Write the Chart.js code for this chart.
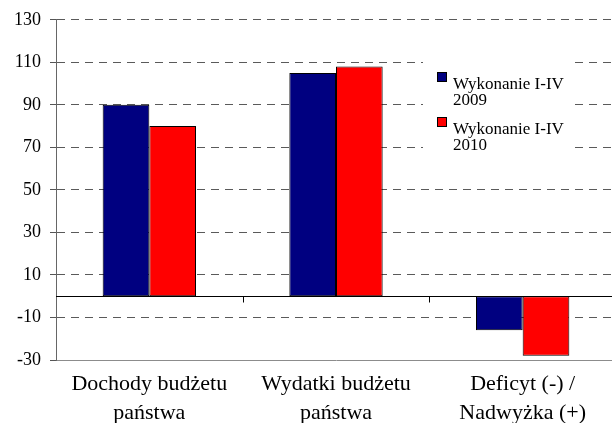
<!DOCTYPE html>
<html>
<head>
<meta charset="utf-8">
<script src="https://cdn.jsdelivr.net/npm/chart.js@4/dist/chart.umd.min.js"></script>
<style>
  body { margin: 0; background: #fff; overflow: hidden; }
  #wrap { width: 612px; height: 423px; overflow: hidden; }
</style>
</head>
<body>
<div id="wrap"><canvas id="budget" width="616" height="423"></canvas></div>
<script>
const categories = [
    ['Dochody budżetu', 'państwa'],
    ['Wydatki budżetu', 'państwa'],
    ['Deficyt (-) /', 'Nadwyżka (+)']
];
const seriesNames = ['Wykonanie I-IV 2009', 'Wykonanie I-IV 2010'];
const values2009 = [90, 105, -16];
const values2010 = [80, 108, -28];
const yTicks = [-30, -10, 10, 30, 50, 70, 90, 110, 130];

const serif = '"Liberation Serif", "Times New Roman", serif';

// zero line with small category ticks, like the Excel original
const zeroLine = {
    id: 'zeroLine',
    afterDatasetsDraw(chart) {
        const { ctx, chartArea, scales } = chart;
        const y0 = Math.round(scales.y.getPixelForValue(0)) + 0.5;
        ctx.save();
        ctx.strokeStyle = '#000';
        ctx.lineWidth = 1;
        ctx.beginPath();
        ctx.moveTo(chartArea.left, y0);
        ctx.lineTo(chartArea.right, y0);
        for (let i = 0; i < categories.length - 1; i++) {
            const x = Math.round((scales.x.getPixelForValue(i) + scales.x.getPixelForValue(i + 1)) / 2) + 0.5;
            ctx.moveTo(x, y0);
            ctx.lineTo(x, y0 + 6);
        }
        ctx.stroke();
        ctx.restore();
    }
};

// legend box sitting over the grid, two lines per entry
const boxLegend = {
    id: 'boxLegend',
    afterDraw(chart) {
        const ctx = chart.ctx;
        ctx.save();
        ctx.fillStyle = '#fff';
        ctx.fillRect(423, 62, 149, 93);
        ctx.font = '17px ' + serif;
        ctx.textBaseline = 'alphabetic';
        chart.data.datasets.forEach((ds, i) => {
            const top = 72 + i * 45;
            ctx.fillStyle = ds.backgroundColor;
            ctx.fillRect(437, top, 9, 9);
            ctx.strokeStyle = '#000';
            ctx.lineWidth = 1;
            ctx.strokeRect(437.5, top + 0.5, 9, 9);
            const cut = ds.label.lastIndexOf(' ');
            ctx.fillStyle = '#000';
            ctx.fillText(ds.label.slice(0, cut), 453, top + 17);
            ctx.fillText(ds.label.slice(cut + 1), 453, top + 33);
        });
        ctx.restore();
    }
};

const chart = new Chart(document.getElementById('budget'), {
    type: 'bar',
    data: {
        labels: categories,
        datasets: [{
            label: seriesNames[0],
            data: values2009,
            backgroundColor: '#000080',
            borderColor: '#000',
            borderWidth: 1,
            borderSkipped: false
        }, {
            label: seriesNames[1],
            data: values2010,
            backgroundColor: '#ff0000',
            borderColor: '#000',
            borderWidth: 1,
            borderSkipped: false
        }]
    },
    options: {
        responsive: false,
        animation: false,
        devicePixelRatio: 1,
        layout: { padding: { top: 18, right: 0, left: 0, bottom: 0 } },
        datasets: { bar: { categoryPercentage: 0.5, barPercentage: 1.0 } },
        plugins: {
            legend: { display: false },
            tooltip: { enabled: false }
        },
        scales: {
            x: {
                grid: { display: false, drawTicks: false },
                border: { display: true, color: '#8c8c8c', width: 1 },
                ticks: {
                    color: '#000',
                    padding: 10,
                    maxRotation: 0,
                    font: { family: serif, size: 22, lineHeight: 1.32 }
                },
                afterFit(scale) { scale.height = 63; }
            },
            y: {
                min: -30,
                max: 130,
                afterBuildTicks(scale) {
                    scale.ticks = yTicks.map(v => ({ value: v }));
                },
                grid: {
                    color: (c) => (c.tick && c.tick.value === -30) ? 'rgba(0,0,0,0)' : '#5a5a5a',
                    tickColor: '#555',
                    tickLength: 6,
                    tickBorderDash: []
                },
                border: { display: true, color: '#666', width: 1, dash: [8, 6] },
                ticks: {
                    color: '#000',
                    padding: 9,
                    font: { family: serif, size: 18 }
                },
                afterFit(scale) { scale.width = 56; }
            }
        }
    },
    plugins: [zeroLine, boxLegend]
});
</script>
</body>
</html>
